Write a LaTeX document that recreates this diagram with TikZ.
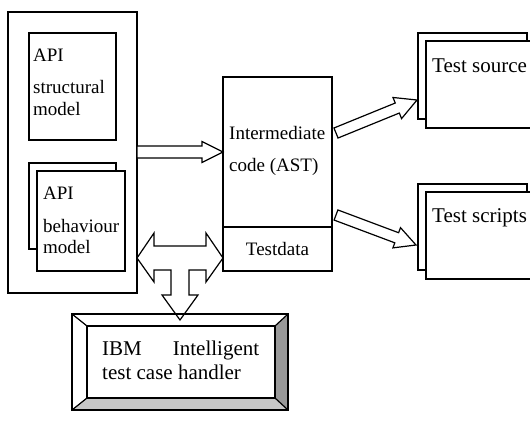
\documentclass[tikz,border=0pt]{standalone}
\usepackage{fontspec}
\setmainfont{Liberation Serif}
\usetikzlibrary{calc}

\tikzset{
  line/.style={draw=black, line width=1.2pt},
  panel/.style={line, fill=white, rectangle, inner sep=0pt, outer sep=0pt, anchor=north west},
  txt/.style={inner sep=0pt, anchor=base west, font=\fontsize{19}{23}\selectfont},
  bigtxt/.style={txt, font=\fontsize{21}{25}\selectfont},
  hollow/.style={line, fill=white, line join=miter},
}

% hollow block arrow: start, tip, shaft half width, head half width, head length
\newcommand\blockarrow[5]{%
  \coordinate (ba-base) at ($(#2)!#5!(#1)$);
  \draw[hollow] ($(#1)!#3!90:(#2)$) -- ($(ba-base)!#3!90:(#2)$)
    -- ($(ba-base)!#4!90:(#2)$) -- (#2) -- ($(ba-base)!#4!-90:(#2)$)
    -- ($(ba-base)!#3!-90:(#2)$) -- ($(#1)!#3!-90:(#2)$) -- cycle;
}

\begin{document}
\begin{tikzpicture}[x=1pt, y=-1pt]
\useasboundingbox (0,0) rectangle (530,421);
\clip (0,0) rectangle (530,421);

% API models
\node[panel, minimum width=129pt, minimum height=281pt] (api) at (8,12) {};
\node[panel, minimum width=87pt, minimum height=107pt] (struct) at (29,33) {};
\node[panel, minimum width=87pt, minimum height=86pt] (behback) at (29,163) {};
\node[panel, minimum width=88pt, minimum height=100pt] (beh) at (37,171) {};

\node[txt] (t1) at (33,61.5) {API};
\node[txt] (t2) at (33,93) {structural};
\node[txt] (t3) at (33,115) {model};
\node[txt] (t4) at (43,199) {API};
\node[txt] (t5) at (43,232) {behaviour};
\node[txt] (t6) at (43,253) {model};

% intermediate code
\node[panel, minimum width=109pt, minimum height=150pt] (ast) at (223,77) {};
\node[panel, minimum width=109pt, minimum height=44pt] (tdata) at (223,227) {};
\node[txt] (t7) at (229,139) {Intermediate};
\node[txt] (t8) at (229,171) {code (AST)};
\node[txt, anchor=base] (t9) at (277.5,255) {Testdata};

% generated outputs
\node[panel, minimum width=109pt, minimum height=86pt] (srcback) at (418,33) {};
\node[panel, minimum width=110pt, minimum height=87pt] (src) at (426,41) {};
\node[bigtxt] (t10) at (432,72) {Test source};
\node[panel, minimum width=109pt, minimum height=86pt] (scrback) at (418,184) {};
\node[panel, minimum width=110pt, minimum height=87pt] (scr) at (426,192) {};
\node[bigtxt] (t11) at (432,222) {Test scripts};

% arrows
\coordinate (h1s) at (api.east |- 0,152);
\coordinate (h1t) at (ast.west |- 0,152);
\blockarrow{h1s}{h1t}{6pt}{10.5pt}{21pt}
\coordinate (d1s) at (336,133);
\coordinate (d1t) at (417,100);
\blockarrow{d1s}{d1t}{5.4pt}{11.4pt}{21.3pt}
\coordinate (d2s) at (336,215);
\coordinate (d2t) at (416,245);
\blockarrow{d2s}{d2t}{5.4pt}{10.8pt}{20.6pt}

% three-way arrow
\coordinate (tl) at (api.east |- 0,258);
\coordinate (tr) at (tdata.west |- 0,258);
\coordinate (tb) at (180,320);
\draw[hollow] (tl) -- (154,233) -- (154,246) -- (206,246) -- (206,233) -- (tr)
  -- (206,282) -- (206,270) -- (189,270) -- (189,295) -- (198,295) -- (tb)
  -- (162,295) -- (171,295) -- (171,270) -- (154,270) -- (154,282) -- cycle;

% bevelled handler box
\node[line, rectangle, inner sep=0pt, outer sep=0pt, anchor=north west,
      minimum width=216pt, minimum height=96pt] (ibm) at (72,314) {};
\fill[black!40] (ibm.north east) -- (ibm.south east) -- (275,398) -- (275,326) -- cycle;
\fill[black!22] (ibm.south west) -- (ibm.south east) -- (275,398) -- (87,398) -- cycle;
\draw[line] (ibm.north west) rectangle (ibm.south east);
\draw[line, fill=white] (87,326) rectangle (275,398);
\draw[line] (ibm.north west) -- (87,326) (ibm.north east) -- (275,326)
  (ibm.south west) -- (87,398) (ibm.south east) -- (275,398);
\node[bigtxt] (t12) at (102,355) {\makebox[157pt][s]{IBM\hfill Intelligent}};
\node[bigtxt] (t13) at (102,379) {test case handler};
\end{tikzpicture}
\end{document}
